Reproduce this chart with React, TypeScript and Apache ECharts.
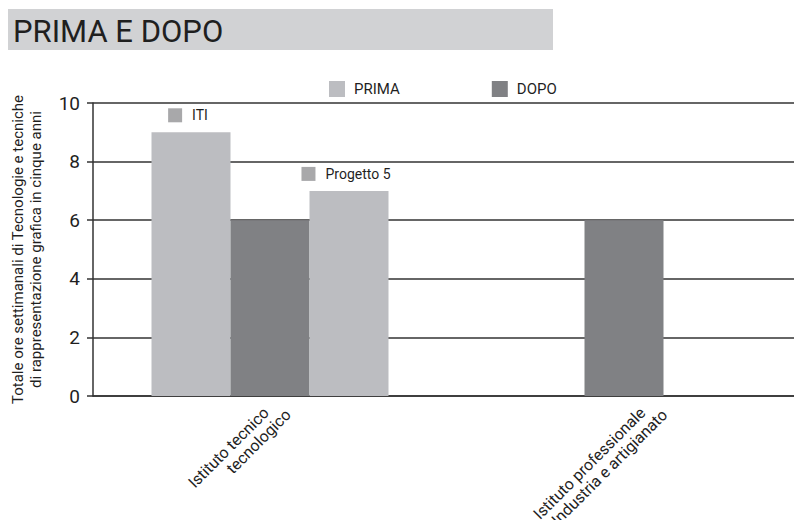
import React, { useEffect, useRef } from "react";
import * as echarts from "echarts";

const categories = ["Istituto tecnico\ntecnologico", "Istituto professionale\nIndustria e artigianato"];
const primaValues: (number | null)[] = [9, null];
const dopoValues: (number | null)[] = [6, 6];
const progettoValues: (number | null)[] = [7, null];
const primaLabels = ["ITI", ""];
const progettoLabels = ["Progetto 5", ""];
const yTicks = [0, 2, 4, 6, 8, 10];

const FONT = "Roboto";
const PRIMA_COLOR = "#bcbdc1";
const DOPO_COLOR = "#808184";
const TEXT = "#1f1f1f";

// per-category placement of the rotated axis labels
const categoryLabelStyles = [
  { align: "right", verticalAlign: "top", padding: [0, 0, 0, 0] },
  { align: "center", verticalAlign: "top", padding: [16, 133, 0, 0] },
];

function withLabels(values: (number | null)[], labels: string[]) {
  return values.map((v, i) =>
    labels[i]
      ? {
          value: v,
          label: {
            show: true,
            position: "top",
            distance: 10,
            offset: [-3, 0],
            formatter: "{sq|}{t|" + labels[i] + "}",
            rich: {
              sq: { backgroundColor: "#a8a8aa", width: 14, height: 14 },
              t: { fontFamily: FONT, fontSize: 14, color: TEXT, padding: [0, 0, 0, 10] },
            },
          },
        }
      : v
  );
}

export default function App() {
  const ref = useRef<HTMLDivElement>(null);
  useEffect(() => {
    document.body.style.margin = "0";
    const chart = echarts.init(ref.current!, null, { renderer: "svg" });
    chart.setOption({
      animation: false,
      backgroundColor: "#ffffff",
      textStyle: { fontFamily: FONT },
      graphic: [
        { type: "rect", shape: { x: 8, y: 9, width: 545, height: 41 }, style: { fill: "#d1d2d4" } },
        {
          type: "text",
          x: 13,
          y: 31,
          style: { text: "PRIMA E DOPO", fontFamily: FONT, fontSize: 31, fill: TEXT, verticalAlign: "middle" },
        },
      ],
      legend: {
        data: ["PRIMA", "DOPO"],
        left: 324,
        top: 76,
        itemWidth: 16,
        itemHeight: 16,
        itemGap: 92,
        icon: "rect",
        textStyle: { fontFamily: FONT, fontSize: 15, color: TEXT, padding: [0, 0, 0, 4] },
      },
      grid: { left: 93, top: 103, width: 708, bottom: 124, outerBoundsMode: "none", containLabel: false },
      xAxis: {
        type: "category",
        data: categories.map((c, i) => ({ value: c, textStyle: categoryLabelStyles[i] })),
        axisLine: { lineStyle: { color: "#333", width: 1.5 } },
        axisTick: { lineStyle: { color: "#333", width: 1.5 }, length: 6 },
        axisLabel: {
          interval: 0,
          rotate: 45,
          margin: -2,
          verticalAlign: "top",
          formatter: (v: string) => {
            const parts = v.split("\n");
            return "{a|" + parts[0] + "}\n{b|" + parts[1] + "}";
          },
          rich: {
            a: { fontFamily: FONT, fontSize: 16, color: TEXT, padding: [0, 14, 0, 0], lineHeight: 17, align: "right" },
            b: { fontFamily: FONT, fontSize: 16, color: TEXT, lineHeight: 17, align: "right" },
          },
        },
      },
      yAxis: {
        type: "value",
        min: yTicks[0],
        max: yTicks[yTicks.length - 1],
        interval: 2,
        name: "Totale ore settimanali di Tecnologie e tecniche\ndi rappresentazione grafica in cinque anni",
        nameLocation: "middle",
        nameRotate: 90,
        nameGap: 48,
        nameTextStyle: { fontFamily: FONT, fontSize: 15, color: TEXT, lineHeight: 18 },
        axisLine: { show: true, lineStyle: { color: "#333", width: 1.5 } },
        axisTick: { show: true, lineStyle: { color: "#333", width: 1.5 }, length: 6 },
        axisLabel: { fontFamily: FONT, fontSize: 19, color: TEXT, margin: 13 },
        splitLine: { lineStyle: { color: "#333", width: 1.5 } },
      },
      series: [
        {
          name: "PRIMA",
          type: "bar",
          data: withLabels(primaValues, primaLabels),
          itemStyle: { color: PRIMA_COLOR },
          barGap: "0%",
          barWidth: 79,
        },
        {
          name: "DOPO",
          type: "bar",
          data: dopoValues,
          itemStyle: { color: DOPO_COLOR },
          barWidth: 79,
        },
        {
          name: "Progetto 5",
          type: "bar",
          data: withLabels(progettoValues, progettoLabels),
          itemStyle: { color: PRIMA_COLOR },
          barWidth: 79,
        },
      ],
    });
    return () => chart.dispose();
  }, []);
  return <div ref={ref} style={{ width: 794, height: 520 }} />;
}
